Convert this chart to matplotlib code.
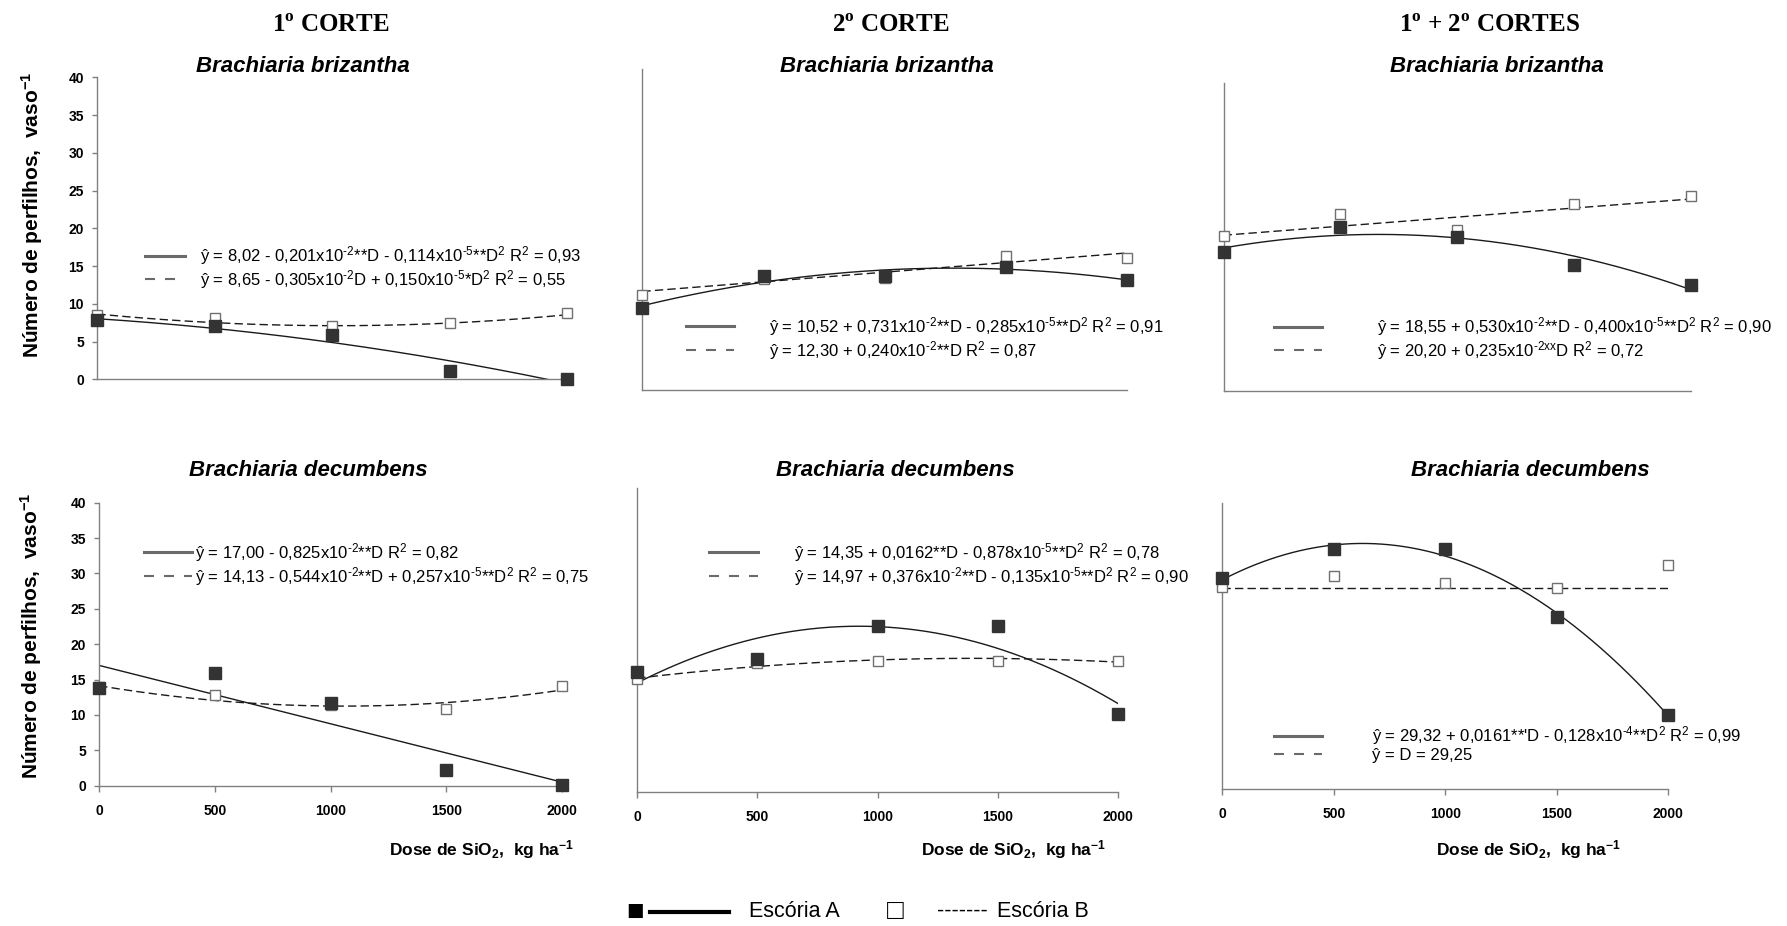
import numpy as np
import matplotlib
matplotlib.use("Agg")
import matplotlib.pyplot as plt
from matplotlib.lines import Line2D

plt.rcParams['font.family'] = ['Liberation Sans', 'DejaVu Sans']
plt.rcParams['mathtext.fontset'] = 'custom'
plt.rcParams['mathtext.rm'] = 'Liberation Sans'
plt.rcParams['mathtext.it'] = 'Liberation Sans:italic'
plt.rcParams['mathtext.bf'] = 'Liberation Sans:bold'

# --- data -------------------------------------------------------------------
dose = [0, 500, 1000, 1500, 2000]
y_ticks = [0, 5, 10, 15, 20, 25, 30, 35, 40]

# observed tillers per pot: Escoria A (filled) / Escoria B (open)
briz_c1_a = [7.9, 7.0, 5.9, 1.1, 0.1]
briz_c1_b = [8.5, 8.1, 7.0, 7.4, 8.8]
briz_c2_a = [10.2, 14.2, 14.25, 15.3, 13.7]
briz_c2_b = [11.85, 13.9, 14.0, 16.7, 16.5]
briz_tot_a = [18.0, 21.3, 20.0, 16.3, 13.8]
briz_tot_b = [20.1, 22.9, 20.9, 24.2, 25.3]
dec_c1_a = [13.8, 16.0, 11.7, 2.2, 0.1]
dec_c1_b = [14.0, 12.8, 11.4, 10.8, 14.15]
dec_c2_a = [15.8, 17.5, 21.9, 21.85, 10.2]
dec_c2_b = [14.8, 17.0, 17.3, 17.3, 17.3]
dec_tot_a = [29.5, 33.6, 33.6, 24.1, 10.4]
dec_tot_b = [28.3, 29.8, 28.8, 28.1, 31.4]

# regression coefficients (b0, b1, b2) printed on each panel
fit_briz_c1_a = [8.02, -0.201e-2, -0.114e-5]
fit_briz_c1_b = [8.65, -0.305e-2, 0.150e-5]
fit_briz_c2_a = [10.52, 0.731e-2, -0.285e-5]
fit_briz_c2_b = [12.30, 0.240e-2]
fit_briz_tot_a = [18.55, 0.530e-2, -0.400e-5]
fit_briz_tot_b = [20.20, 0.235e-2]
fit_dec_c1_a = [17.00, -0.825e-2]
fit_dec_c1_b = [14.13, -0.544e-2, 0.257e-5]
fit_dec_c2_a = [14.35, 0.0162, -0.878e-5]
fit_dec_c2_b = [14.97, 0.376e-2, -0.135e-5]
fit_dec_tot_a = [29.32, 0.0161, -0.128e-4]
fit_dec_tot_b = [28.2]


def sup(s):
    return r"$^{\text{%s}}$" % s


eq_briz_c1 = ["ŷ = 8,02 - 0,201x10" + sup("-2") + "**D - 0,114x10" + sup("-5") + "**D" + sup("2") + " R" + sup("2") + " = 0,93",
              "ŷ = 8,65 - 0,305x10" + sup("-2") + "D + 0,150x10" + sup("-5") + "*D" + sup("2") + " R" + sup("2") + " = 0,55"]
eq_briz_c2 = ["ŷ = 10,52 + 0,731x10" + sup("-2") + "**D - 0,285x10" + sup("-5") + "**D" + sup("2") + " R" + sup("2") + " = 0,91",
              "ŷ = 12,30 + 0,240x10" + sup("-2") + "**D R" + sup("2") + " = 0,87"]
eq_briz_tot = ["ŷ = 18,55 + 0,530x10" + sup("-2") + "**D - 0,400x10" + sup("-5") + "**D" + sup("2") + " R" + sup("2") + " = 0,90",
               "ŷ = 20,20 + 0,235x10" + sup("-2xx") + "D R" + sup("2") + " = 0,72"]
eq_dec_c1 = ["ŷ = 17,00 - 0,825x10" + sup("-2") + "**D R" + sup("2") + " = 0,82",
             "ŷ = 14,13 - 0,544x10" + sup("-2") + "**D + 0,257x10" + sup("-5") + "**D" + sup("2") + " R" + sup("2") + " = 0,75"]
eq_dec_c2 = ["ŷ = 14,35 + 0,0162**D - 0,878x10" + sup("-5") + "**D" + sup("2") + " R" + sup("2") + " = 0,78",
             "ŷ = 14,97 + 0,376x10" + sup("-2") + "**D - 0,135x10" + sup("-5") + "**D" + sup("2") + " R" + sup("2") + " = 0,90"]
eq_dec_tot = ["ŷ = 29,32 + 0,0161**'D - 0,128x10" + sup("-4") + "**D" + sup("2") + " R" + sup("2") + " = 0,99",
              "ŷ = D = 29,25"]

col_titles = ["1" + r"$^{\mathdefault{o}}$" + " CORTE", "2" + r"$^{\mathdefault{o}}$" + " CORTE",
              "1" + r"$^{\mathdefault{o}}$" + " + 2" + r"$^{\mathdefault{o}}$" + " CORTES"]
species = ["Brachiaria brizantha", "Brachiaria decumbens"]
y_label = "Número de perfilhos,  vaso" + r"$^{\mathdefault{-1}}$"
x_label = "Dose de SiO" + r"$_{\mathdefault{2}}$" + ",  kg ha" + r"$^{\mathdefault{-1}}$"

# --- layout -----------------------------------------------------------------
fig = plt.figure(figsize=(17.87, 9.26), dpi=100)

panels = [
    # rect, obs a, obs b, fit a, fit b, equations, legend anchor (data), handle len, text pad
    ([0.0545, 0.5904, 0.2630, 0.3261], briz_c1_a, briz_c1_b, fit_briz_c1_a, fit_briz_c1_b, eq_briz_c1, (202, 14.8), 2.4, 0.9),
    ([0.3595, 0.5788, 0.2711, 0.3463], briz_c2_a, briz_c2_b, fit_briz_c2_a, fit_briz_c2_b, eq_briz_c2, (178, 6.45), 2.9, 2.1),
    ([0.6847, 0.5778, 0.2614, 0.3330], briz_tot_a, briz_tot_b, fit_briz_tot_a, fit_briz_tot_b, eq_briz_tot, (215, 6.8), 2.9, 3.3),
    ([0.0555, 0.1515, 0.2591, 0.3056], dec_c1_a, dec_c1_b, fit_dec_c1_a, fit_dec_c1_b, eq_dec_c1, (194, 31.3), 2.9, 0.15),
    ([0.3566, 0.1450, 0.2690, 0.3276], dec_c2_a, dec_c2_b, fit_dec_c2_a, fit_dec_c2_b, eq_dec_c2, (300, 30.0), 2.9, 2.2),
    ([0.6841, 0.1476, 0.2493, 0.3089], dec_tot_a, dec_tot_b, fit_dec_tot_a, fit_dec_tot_b, eq_dec_tot, (231, 6.35), 2.9, 3.0),
]
xlabel_coords = [(0.827, -0.224), (0.782, -0.189), (0.688, -0.209)]
ylabel_coords = [(-0.14, 0.544), (-0.147, 0.529)]

xs = np.linspace(0, 2000, 300)
axes = []
for i, (rect, obs_a, obs_b, fit_a, fit_b, eqs, anchor, hlen, tpad) in enumerate(panels):
    ax = fig.add_axes(rect)
    axes.append(ax)
    ax.plot(xs, np.polyval(fit_a[::-1], xs), color='#1a1a1a', lw=1.0)
    ax.plot(xs, np.polyval(fit_b[::-1], xs), color='#1a1a1a', lw=1.0, dashes=(6, 3))
    ax.plot(dose, obs_b, 's', ms=7.5, mfc='white', mec='#707070', mew=1.0, clip_on=False, zorder=3)
    ax.plot(dose, obs_a, 's', ms=8.5, mfc='#333333', mec='#333333', clip_on=False, zorder=4)
    ax.set_xlim(0, 2000)
    ax.set_ylim(0, 40)
    for side in ('top', 'right'):
        ax.spines[side].set_visible(False)
    for side in ('left', 'bottom'):
        ax.spines[side].set_color('#808080')
        ax.spines[side].set_linewidth(1.0)

    h_a = Line2D([], [], color='#6a6a6a', lw=2.2)
    h_b = Line2D([], [], color='#6a6a6a', lw=1.5, dashes=(4.8, 4.8))
    ax.legend([h_a, h_b], eqs, loc='center left', bbox_to_anchor=anchor,
              bbox_transform=ax.transData, frameon=False, borderpad=0,
              borderaxespad=0, handlelength=hlen, handletextpad=tpad,
              labelspacing=0.05, fontsize=12)

    row, col = divmod(i, 3)
    if col == 0:
        ax.set_yticks(y_ticks)
        ax.set_yticklabels([str(v) for v in y_ticks], fontweight='bold', fontsize=10)
        ax.tick_params(axis='y', length=3.6, width=1, color='#808080', pad=6)
        ax.set_ylabel(y_label, fontsize=15, fontweight='bold')
        ax.yaxis.set_label_coords(*ylabel_coords[row])
        ax.yaxis.label.set_verticalalignment('center')
    else:
        ax.set_yticks([])
    if row == 1:
        ax.set_xticks(dose)
        ax.set_xticklabels([str(v) for v in dose], fontweight='bold', fontsize=10)
        ax.tick_params(axis='x', length=4, width=1, color='#808080', pad=9)
        ax.set_xlabel(x_label, fontsize=12.5, fontweight='bold')
        ax.xaxis.set_label_coords(*xlabel_coords[col])
        ax.xaxis.label.set_verticalalignment('center')
    else:
        ax.set_xticks([])

# column titles and species subtitles
title_x = [331 / 1787, 891 / 1787, 1490 / 1787]
for x, t in zip(title_x, col_titles):
    fig.text(x, 0.973, t, ha='center', va='center', fontsize=18, fontweight='bold',
             family=['Liberation Serif', 'DejaVu Serif'])
sub_x = [[303 / 1787, 887 / 1787, 1497 / 1787], [308 / 1787, 895 / 1787, 1530 / 1787]]
sub_y = [0.9287, 0.4914]
for r in range(2):
    for x in sub_x[r]:
        fig.text(x, sub_y[r], species[r], ha='center', va='center', fontsize=16,
                 fontweight='bold', fontstyle='italic')

# key at the bottom
ky = 0.0155
fig.text(635 / 1787, ky, "■", ha='center', va='center', fontsize=21, color='black')
fig.add_artist(Line2D([650 / 1787, 729 / 1787], [ky, ky], color='black', lw=3,
                      transform=fig.transFigure))
fig.text(749 / 1787, ky, "Escória A", ha='left', va='center', fontsize=15.5)
fig.text(895 / 1787, ky, "□", ha='center', va='center', fontsize=20)
fig.text(937 / 1787, ky, "-------", ha='left', va='center', fontsize=15.5)
fig.text(997 / 1787, ky, "Escória B", ha='left', va='center', fontsize=15.5)

fig.savefig("out.png", dpi=100)
